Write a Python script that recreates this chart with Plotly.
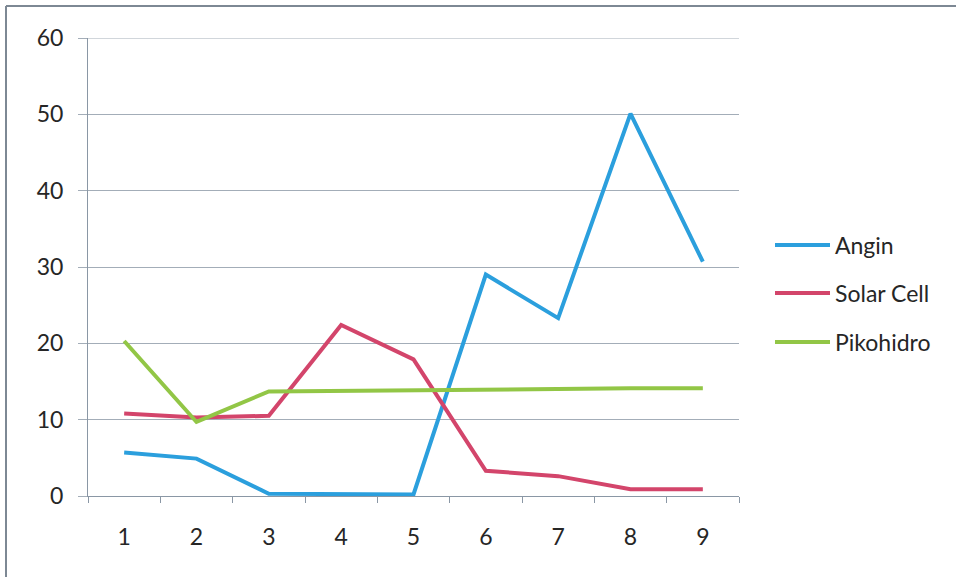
import plotly.graph_objects as go

categories = [1, 2, 3, 4, 5, 6, 7, 8, 9]
angin = [5.7, 4.9, 0.3, 0.3, 0.2, 29.0, 23.3, 50.1, 30.7]
solar_cell = [10.8, 10.3, 10.5, 22.4, 17.9, 3.3, 2.6, 0.9, 0.9]
pikohidro = [20.3, 9.7, 13.7, 13.8, 13.9, 14.0, 14.1, 14.1, 14.1]
y_ticks = [0, 10, 20, 30, 40, 50, 60]

series = [
    ("Angin", angin, "#2B9FDD"),
    ("Solar Cell", solar_cell, "#D3456B"),
    ("Pikohidro", pikohidro, "#92C646"),
]

W, H = 956, 577
L, R, T, B = 88, 217, 38, 81
pw, ph = W - L - R, H - T - B

FONT = "Lato"
TXT = "#262626"
fig = go.Figure()
legend_names = ["legend", "legend2", "legend3"]
legend_py = [245, 293, 342]
for (name, vals, col), lg in zip(series, legend_names):
    fig.add_trace(go.Scatter(
        x=categories, y=vals, name=name, mode="lines",
        line=dict(color=col, width=4), legend=lg,
    ))

layout_legends = {}
for lg, py in zip(legend_names, legend_py):
    layout_legends[lg] = dict(
        x=(770 - L) / pw, xanchor="left",
        y=(H - B - py) / ph, yanchor="middle",
        bgcolor="rgba(0,0,0,0)", itemwidth=55,
        font=dict(family=FONT, size=23, color=TXT),
    )

fig.update_layout(
    width=W, height=H,
    margin=dict(l=L, r=R, t=T, b=B, pad=0),
    paper_bgcolor="white", plot_bgcolor="white",
    font=dict(family=FONT, size=23, color=TXT),
    showlegend=True,
    **layout_legends,
    xaxis=dict(
        range=[0.5, 9.5], tickmode="array", tickvals=categories,
        ticktext=[str(c) for c in categories],
        showgrid=False, zeroline=False,
        showline=True, linecolor="#8a97a5", linewidth=1,
        ticks="", ticklabelstandoff=20,
        tickfont=dict(family=FONT, size=23, color=TXT),
        minor=dict(tickmode="array", tickvals=[c - 0.5 for c in categories] + [9.5],
                   ticks="outside", ticklen=6, tickcolor="#8a97a5", showgrid=False),
    ),
    yaxis=dict(
        range=[0, 60], tickmode="array", tickvals=y_ticks,
        showgrid=True, gridcolor="#a3adb8", gridwidth=1,
        zeroline=False,
        showline=True, linecolor="#8a97a5", linewidth=1,
        ticks="outside", ticklen=9, tickcolor="#a3adb8",
        ticklabelstandoff=10,
        tickfont=dict(family=FONT, size=23, color=TXT),
    ),
    shapes=[
        dict(type="line", xref="paper", yref="y", layer="below",
             x0=0, x1=1, y0=60, y1=60,
             line=dict(color="#a3adb8", width=1)),
        dict(type="line", xref="paper", yref="paper",
             x0=(6 - L) / pw, x1=(W - L) / pw,
             y0=(H - B - 6) / ph, y1=(H - B - 6) / ph,
             line=dict(color="#7d8894", width=2)),
        dict(type="line", xref="paper", yref="paper",
             x0=(6 - L) / pw, x1=(6 - L) / pw,
             y0=(H - B - 6) / ph, y1=(H - B - H) / ph,
             line=dict(color="#7d8894", width=2)),
    ],
)

fig.write_html("out.html")
